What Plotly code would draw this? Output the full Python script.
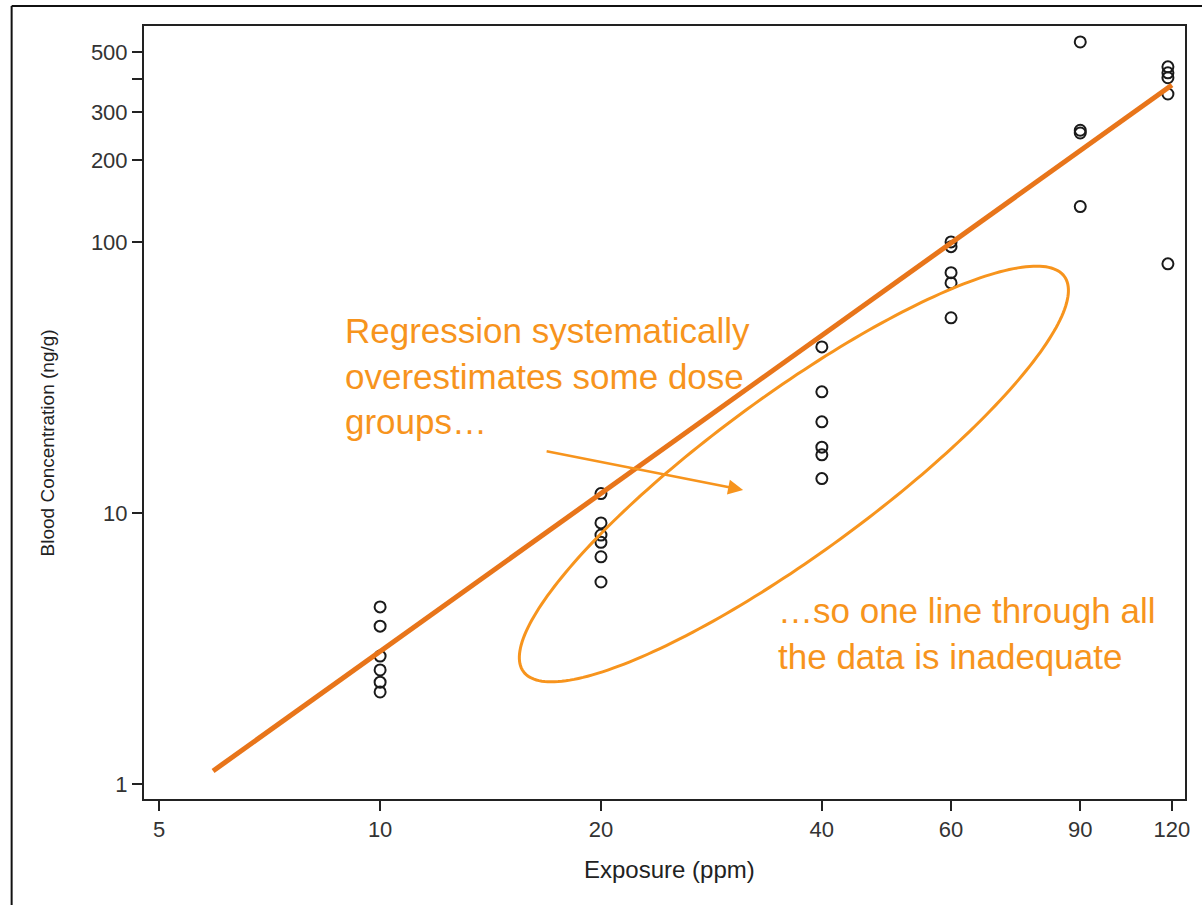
import math
import plotly.graph_objects as go

# Exposure groups (ppm) and measured blood concentrations (ng/g)
exp_10 = [10, 10, 10, 10, 10, 10]
conc_10 = [4.51, 3.83, 2.97, 2.64, 2.38, 2.19]
exp_20 = [20, 20, 20, 20, 20, 20]
conc_20 = [11.8, 9.2, 8.3, 7.8, 6.9, 5.57]
exp_40 = [40, 40, 40, 40, 40, 40]
conc_40 = [41.0, 28.0, 21.7, 17.5, 16.4, 13.4]
exp_60 = [60, 60, 60, 60, 60]
conc_60 = [100, 96, 77, 70.6, 52.5]
exp_90 = [90, 90, 90, 90]
conc_90 = [546, 258, 252, 135]
exp_120 = [118.5, 118.5, 118.5, 118.5, 118.5]
conc_120 = [442, 420, 403, 351, 83]

# Fitted log-log regression line (end points)
fit_exposure = [5.92, 120]
fit_conc = [1.12, 379]

x_tickvals = [5, 10, 20, 40, 60, 90, 120]
x_ticktext = ["5", "10", "20", "40", "60", "90", "120"]
y_tickvals = [1, 10, 100, 200, 300, 400, 500]
y_ticktext = ["1", "10", "100", "200", "300", "", "500"]

W, H = 1202, 905
L, R, T, B = 144, 12, 26, 106
PW, PH = W - L - R, H - T - B

LINE_ORANGE = "#E8751A"
NOTE_ORANGE = "#F7941D"


def px(xp):
    return (xp - L) / PW


def py(yp):
    return (T + PH - yp) / PH


exposure = exp_10 + exp_20 + exp_40 + exp_60 + exp_90 + exp_120
conc = conc_10 + conc_20 + conc_40 + conc_60 + conc_90 + conc_120

fig = go.Figure()
fig.add_trace(go.Scatter(
    x=exposure, y=conc, mode="markers",
    marker=dict(symbol="circle-open", size=11, color="#1a1a1a",
                line=dict(width=2, color="#1a1a1a")),
    showlegend=False, hoverinfo="x+y",
))
fig.add_trace(go.Scatter(
    x=fit_exposure, y=fit_conc, mode="lines",
    line=dict(color=LINE_ORANGE, width=5),
    showlegend=False, hoverinfo="skip",
))

# Tilted ellipse outlining the overestimated dose groups (screen pixels)
cx, cy, ea, eb, ang = 797, 474, 336, 80, math.radians(36)
pts = []
for i in range(0, 241):
    t = 2 * math.pi * i / 240
    ex = ea * math.cos(t)
    ey = eb * math.sin(t)
    xp = cx + ex * math.cos(ang) + ey * math.sin(ang)
    yp = cy - ex * math.sin(ang) + ey * math.cos(ang)
    pts.append((px(xp), py(yp)))
path = "M " + " L ".join(f"{a:.5f},{b:.5f}" for a, b in pts) + " Z"

shapes = [
    dict(type="path", xref="paper", yref="paper", path=path,
         line=dict(color=NOTE_ORANGE, width=3), fillcolor="rgba(0,0,0,0)"),
    # slide frame around the chart
    dict(type="line", xref="paper", yref="paper",
         x0=px(11), x1=px(11), y0=py(6), y1=py(910),
         line=dict(color="#111", width=2)),
    dict(type="line", xref="paper", yref="paper",
         x0=px(11), x1=px(1210), y0=py(6), y1=py(6),
         line=dict(color="#111", width=2)),
]

note_font = dict(family="Liberation Sans, Arial, sans-serif", size=35, color=NOTE_ORANGE)
annotations = [
    dict(xref="paper", yref="paper", x=px(344), y=py(376),
         xanchor="left", yanchor="middle", align="left", showarrow=False,
         text="Regression systematically<br>overestimates some dose<br>groups…",
         font=note_font),
    dict(xref="paper", yref="paper", x=px(779), y=py(633),
         xanchor="left", yanchor="middle", align="left", showarrow=False,
         text="…so one line through all<br>the data is inadequate",
         font=note_font),
    dict(xref="paper", yref="paper", x=px(746), y=py(490), text="",
         showarrow=True, ax=548 - 746, ay=451 - 490, axref="pixel", ayref="pixel",
         arrowhead=2, arrowsize=1.2, arrowwidth=2.5, arrowcolor=NOTE_ORANGE),
    # axis titles
    dict(xref="paper", yref="paper", x=px(47), y=py(443),
         xanchor="center", yanchor="middle", showarrow=False, textangle=-90,
         text="Blood Concentration (ng/g)",
         font=dict(family="Liberation Sans, Arial, sans-serif", size=19, color="#222")),
    dict(xref="paper", yref="paper", x=px(672), y=py(870),
         xanchor="center", yanchor="middle", showarrow=False,
         text="Exposure (ppm)",
         font=dict(family="Liberation Sans, Arial, sans-serif", size=24, color="#222")),
]

fig.update_layout(
    width=W, height=H,
    margin=dict(l=L, r=R, t=T, b=B),
    paper_bgcolor="white", plot_bgcolor="white",
    font=dict(family="Liberation Sans, Arial, sans-serif", color="#333"),
    shapes=shapes, annotations=annotations,
    xaxis=dict(
        type="log", range=[0.6782, 2.0970],
        tickvals=x_tickvals, ticktext=x_ticktext,
        ticks="outside", ticklen=10, tickwidth=2, tickcolor="#222",
        showline=True, linecolor="#222", linewidth=2, mirror=True,
        showgrid=False, zeroline=False,
        tickfont=dict(size=22, color="#333"),
    ),
    yaxis=dict(
        type="log", range=[-0.0542, 2.796],
        tickvals=y_tickvals, ticktext=y_ticktext,
        ticks="outside", ticklen=10, tickwidth=2, tickcolor="#222",
        showline=True, linecolor="#222", linewidth=2, mirror=True,
        showgrid=False, zeroline=False,
        tickfont=dict(size=22, color="#333"),
    ),
)

fig.write_html("out.html")
